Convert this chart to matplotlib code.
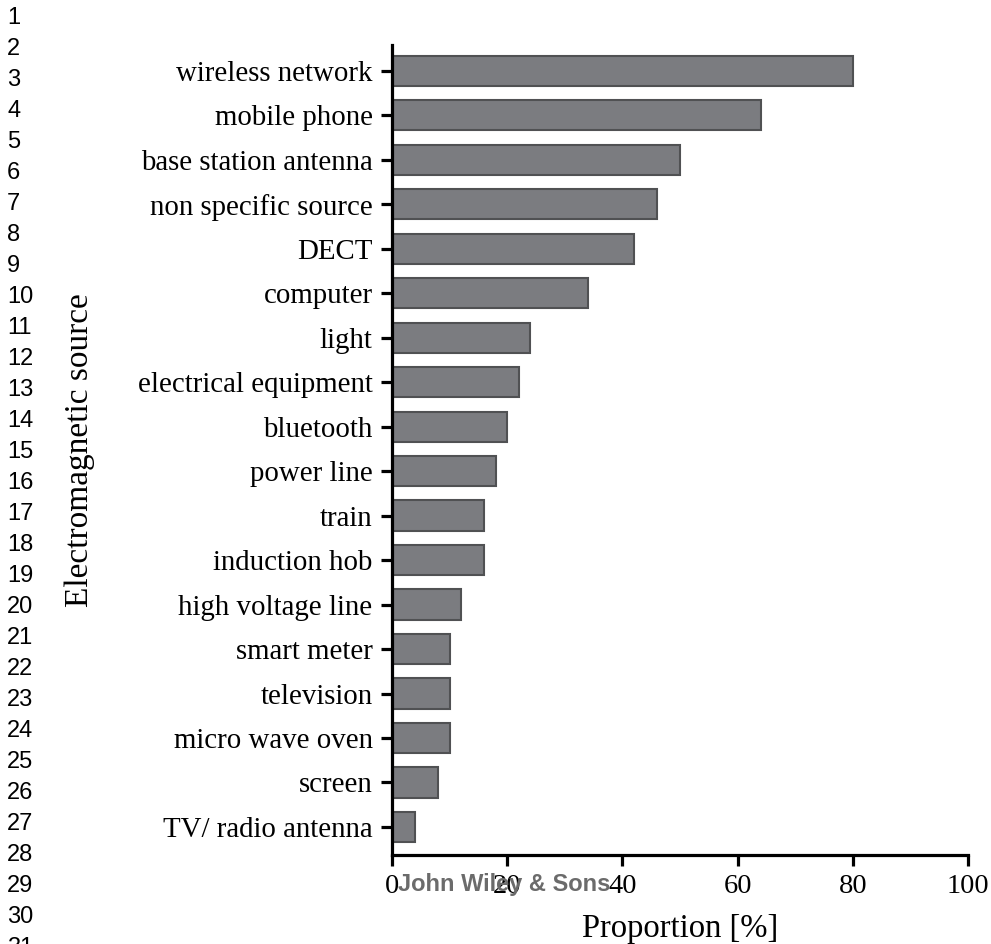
import matplotlib
matplotlib.use("Agg")
import matplotlib.pyplot as plt

categories = ["wireless network", "mobile phone", "base station antenna",
              "non specific source", "DECT", "computer", "light",
              "electrical equipment", "bluetooth", "power line", "train",
              "induction hob", "high voltage line", "smart meter",
              "television", "micro wave oven", "screen", "TV/ radio antenna"]
values = [80, 64, 50, 46, 42, 34, 24, 22, 20, 18, 16, 16, 12, 10, 10, 10, 8, 4]
xticks = [0, 20, 40, 60, 80, 100]
line_numbers = list(range(1, 32))

W, H = 991, 944
fig = plt.figure(figsize=(W / 100, H / 100), dpi=100)
ax = fig.add_axes([392 / W, 1 - 855 / H, 576 / W, 810 / H])

serif = ["Liberation Serif", "DejaVu Serif"]

pos = list(range(len(categories)))
ax.barh(pos, values, height=0.68, color="#7b7c80", edgecolor="#505153",
        linewidth=1.5, zorder=2)
ax.set_ylim(len(categories) - 1 + 0.63, -0.58)
ax.set_xlim(0, 100)
ax.set_xticks(xticks)
ax.set_xticklabels([str(t) for t in xticks], family=serif, fontsize=20.5)
ax.set_yticks(pos)
ax.set_yticklabels(categories, family=serif, fontsize=20.8)

for s in ["top", "right"]:
    ax.spines[s].set_visible(False)
for s in ["left", "bottom"]:
    ax.spines[s].set_linewidth(2.3)
    ax.spines[s].set_color("black")
ax.tick_params(axis="both", direction="out", length=8, width=2.3, color="black")
ax.tick_params(axis="y", pad=6)
ax.tick_params(axis="x", pad=6)

ax.set_ylabel("Electromagnetic source", family=serif, fontsize=24, va="center")
ax.yaxis.set_label_coords((80 - 392) / 576, 0.5)
ax.set_xlabel("Proportion [%]", family=serif, fontsize=23.5, va="center")
ax.xaxis.set_label_coords(0.5, (855 - 929) / 810)

for n in line_numbers:
    fig.text(7 / W, 1 - (18 + (n - 1) * 31) / H, str(n), ha="left", va="center",
             family=["Liberation Sans", "DejaVu Sans"], fontsize=17, color="black")

fig.text(398 / W, 1 - 885 / H, "John Wiley & Sons", ha="left", va="center",
         family=["Liberation Sans", "DejaVu Sans"], fontweight="bold",
         fontsize=17, color="#6b6b6b", zorder=10)

fig.savefig("out.png", dpi=100)
